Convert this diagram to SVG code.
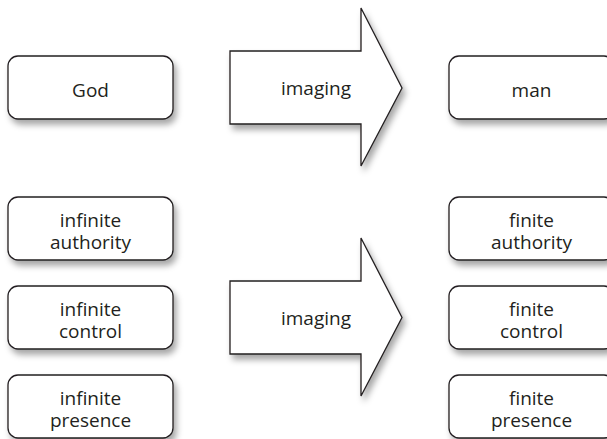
<svg xmlns="http://www.w3.org/2000/svg" width="607" height="439" viewBox="0 0 607 439">
  <defs>
    <filter id="shadow" x="-10%" y="-10%" width="130%" height="140%">
      <feDropShadow dx="3" dy="5" stdDeviation="3" flood-color="#000" flood-opacity="0.35"/>
    </filter>
  </defs>
  <style>
    .box { fill: #ffffff; stroke: #231f20; stroke-width: 1.3; filter: url(#shadow); }
    .arrow { fill: #ffffff; stroke: #231f20; stroke-width: 1.3; stroke-linejoin: miter; filter: url(#shadow); }
    .lbl { font-family: "Open Sans", "Noto Sans", "Liberation Sans", sans-serif; font-size: 19px; fill: #231f20; text-anchor: middle; }
  </style>
  <rect width="607" height="439" fill="#ffffff"/>

  <g id="god">
    <rect class="box" x="8" y="56" width="165" height="63" rx="10" ry="10"/>
    <text class="lbl" x="90.5" y="96.5">God</text>
  </g>
  <g id="man">
    <rect class="box" x="449" y="56" width="165" height="63" rx="10" ry="10"/>
    <text class="lbl" x="531.5" y="96.5">man</text>
  </g>

  <g id="infinite-authority">
    <rect class="box" x="8" y="197" width="165" height="63" rx="10" ry="10"/>
    <text class="lbl" x="90.5" y="227">infinite</text>
    <text class="lbl" x="90.5" y="249">authority</text>
  </g>
  <g id="infinite-control">
    <rect class="box" x="8" y="286" width="165" height="63" rx="10" ry="10"/>
    <text class="lbl" x="90.5" y="316">infinite</text>
    <text class="lbl" x="90.5" y="338">control</text>
  </g>
  <g id="infinite-presence">
    <rect class="box" x="8" y="375" width="165" height="63" rx="10" ry="10"/>
    <text class="lbl" x="90.5" y="405">infinite</text>
    <text class="lbl" x="90.5" y="427">presence</text>
  </g>

  <g id="finite-authority">
    <rect class="box" x="449" y="197" width="165" height="63" rx="10" ry="10"/>
    <text class="lbl" x="531.5" y="227">finite</text>
    <text class="lbl" x="531.5" y="249">authority</text>
  </g>
  <g id="finite-control">
    <rect class="box" x="449" y="286" width="165" height="63" rx="10" ry="10"/>
    <text class="lbl" x="531.5" y="316">finite</text>
    <text class="lbl" x="531.5" y="338">control</text>
  </g>
  <g id="finite-presence">
    <rect class="box" x="449" y="375" width="165" height="63" rx="10" ry="10"/>
    <text class="lbl" x="531.5" y="405">finite</text>
    <text class="lbl" x="531.5" y="427">presence</text>
  </g>

  <g id="connectors">
    <g id="imaging-top">
      <polygon class="arrow" points="230,51 361,51 361,8 402,88 361,166 361,124 230,124"/>
      <text class="lbl" x="316" y="95">imaging</text>
    </g>
    <g id="imaging-bottom">
      <polygon class="arrow" points="230,281 361,281 361,238 402,317.5 361,396 361,354 230,354"/>
      <text class="lbl" x="316" y="325">imaging</text>
    </g>
  </g>
</svg>
